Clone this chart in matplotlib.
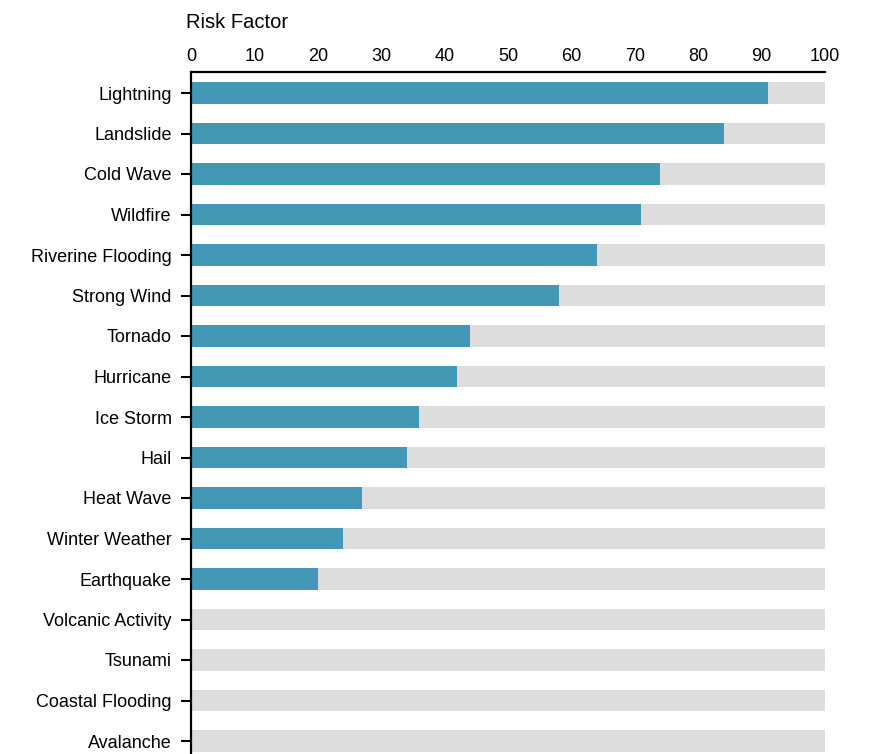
import matplotlib
matplotlib.use("Agg")
import matplotlib.pyplot as plt

categories = ["Lightning", "Landslide", "Cold Wave", "Wildfire", "Riverine Flooding",
              "Strong Wind", "Tornado", "Hurricane", "Ice Storm", "Hail", "Heat Wave",
              "Winter Weather", "Earthquake", "Volcanic Activity", "Tsunami",
              "Coastal Flooding", "Avalanche"]
values = [91, 84, 74, 71, 64, 58, 44, 42, 36, 34, 27, 24, 20, 0, 0, 0, 0]
max_value = 100
x_ticks = [0, 10, 20, 30, 40, 50, 60, 70, 80, 90, 100]

plt.rcParams['font.family'] = ['Liberation Sans', 'DejaVu Sans']

W, H = 873, 754
fig = plt.figure(figsize=(W / 100, H / 100), dpi=100)
ax = fig.add_axes([191 / W, 0, (825 - 191) / W, 1 - 72 / H])

pos = list(range(len(categories)))
ax.barh(pos, [max_value] * len(categories), height=0.52, color="#dddddd", zorder=1)
ax.barh(pos, values, height=0.52, color="#4398b6", zorder=2)

ax.set_xlim(0, 100)
ax.set_ylim(16 + 13 / 40.5, -21 / 40.5)
ax.xaxis.tick_top()
ax.set_xticks(x_ticks)
ax.set_xticklabels([str(t) for t in x_ticks], fontsize=13)
ax.tick_params(axis='x', length=0, pad=5)
ax.set_yticks(pos)
ax.set_yticklabels(categories, fontsize=13)
ax.tick_params(axis='y', length=7, width=1.5, pad=7, color='black')

for s in ["right", "bottom"]:
    ax.spines[s].set_visible(False)
ax.spines["top"].set_linewidth(1.6)
ax.spines["left"].set_linewidth(1.6)

fig.text(186 / W, 1 - 22 / H, "Risk Factor", fontsize=14.5, ha="left", va="center")

fig.savefig("out.png", dpi=100)
